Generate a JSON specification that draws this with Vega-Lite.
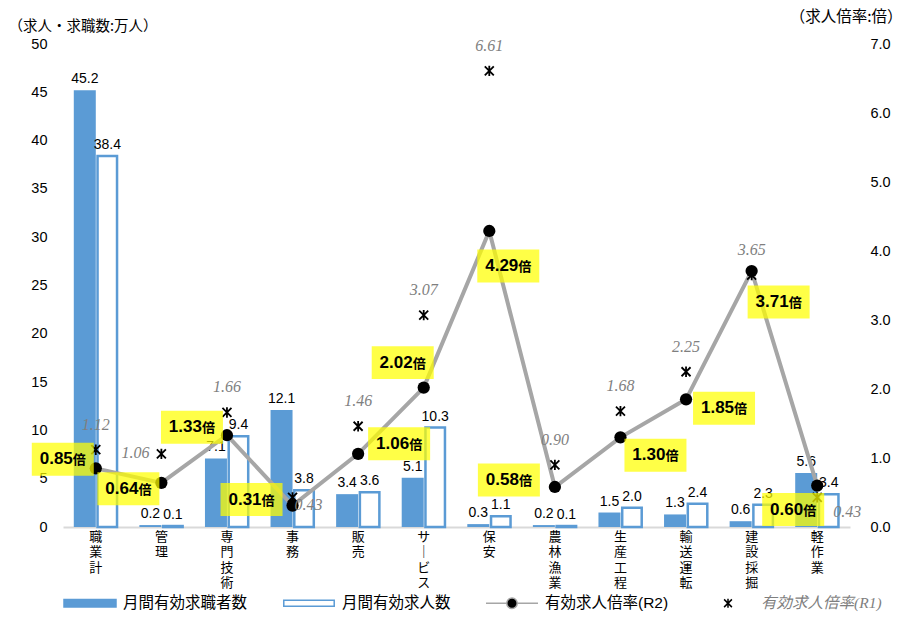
{
  "$schema": "https://vega.github.io/schema/vega-lite/v6.json",
  "width": 787,
  "height": 483,
  "autosize": {"type": "none"},
  "padding": {"left": 63, "top": 44, "right": 57, "bottom": 96},
  "background": "#ffffff",
  "config": {
    "font": "Liberation Sans, Noto Sans CJK JP",
    "view": {"stroke": null},
    "axis": {"labelColor": "#000000", "titleColor": "#000000", "grid": false}
  },
  "data": {
    "values": [
      {"cat": "職業計", "seeker": 45.2, "opening": 38.4, "r2": 0.85, "r1": 1.12},
      {"cat": "管理", "seeker": 0.2, "opening": 0.1, "r2": 0.64, "r1": 1.06},
      {"cat": "専門技術", "seeker": 7.1, "opening": 9.4, "r2": 1.33, "r1": 1.66},
      {"cat": "事務", "seeker": 12.1, "opening": 3.8, "r2": 0.31, "r1": 0.43},
      {"cat": "販売", "seeker": 3.4, "opening": 3.6, "r2": 1.06, "r1": 1.46},
      {"cat": "サービス", "seeker": 5.1, "opening": 10.3, "r2": 2.02, "r1": 3.07},
      {"cat": "保安", "seeker": 0.3, "opening": 1.1, "r2": 4.29, "r1": 6.61},
      {"cat": "農林漁業", "seeker": 0.2, "opening": 0.1, "r2": 0.58, "r1": 0.90},
      {"cat": "生産工程", "seeker": 1.5, "opening": 2.0, "r2": 1.30, "r1": 1.68},
      {"cat": "輸送運転", "seeker": 1.3, "opening": 2.4, "r2": 1.85, "r1": 2.25},
      {"cat": "建設採掘", "seeker": 0.6, "opening": 2.3, "r2": 3.71, "r1": 3.65},
      {"cat": "軽作業", "seeker": 5.6, "opening": 3.4, "r2": 0.60, "r1": 0.43}
    ]
  },
  "encoding": {
    "x": {
      "field": "cat", "type": "nominal", "sort": null,
      "scale": {"paddingInner": 0, "paddingOuter": 0},
      "axis": {
        "title": null, "labelAngle": 0, "ticks": false,
        "domainColor": "#D9D9D9", "domainWidth": 2,
        "labelFont": "Noto Sans CJK JP", "labelFontSize": 13, "labelLineHeight": 15.5,
        "labelBaseline": "top", "labelPadding": 3,
        "labelExpr": "split(replace(datum.label, 'ー', '｜'), '')"
      }
    }
  },
  "layer": [
    {
      "mark": {"type": "bar", "color": "#5B9BD5", "width": 22, "xOffset": -11},
      "encoding": {
        "y": {
          "field": "seeker", "type": "quantitative", "scale": {"domain": [0, 50]},
          "axis": {
            "values": [0, 5, 10, 15, 20, 25, 30, 35, 40, 45, 50],
            "domain": false, "ticks": false, "labelFontSize": 14.5, "labelPadding": 16,
            "title": "（求人・求職数:万人）", "titleAngle": 0, "titleAlign": "left", "titleBaseline": "middle",
            "titleX": -55, "titleY": -18, "titleFontSize": 14.5, "titleFontWeight": "normal",
            "titleFont": "Noto Sans CJK JP"
          }
        }
      }
    },
    {
      "mark": {"type": "bar", "fill": "#ffffff", "stroke": "#5B9BD5", "strokeWidth": 2.5, "width": 19.5, "xOffset": 11.5},
      "encoding": {"y": {"field": "opening", "type": "quantitative", "scale": {"domain": [0, 50]}, "axis": null}}
    },
    {
      "mark": {"type": "text", "baseline": "bottom", "xOffset": -11, "yOffset": -4, "fontSize": 14, "color": "#000000"},
      "encoding": {
        "y": {"field": "seeker", "type": "quantitative", "scale": {"domain": [0, 50]}, "axis": null},
        "text": {"field": "seeker", "format": ".1f"}
      }
    },
    {
      "mark": {"type": "text", "baseline": "bottom", "xOffset": 11.5, "yOffset": -4, "fontSize": 14, "color": "#000000"},
      "encoding": {
        "y": {"field": "opening", "type": "quantitative", "scale": {"domain": [0, 50]}, "axis": null},
        "text": {"field": "opening", "format": ".1f"}
      }
    },
    {
      "mark": {"type": "line", "color": "#A6A6A6", "strokeWidth": 4},
      "encoding": {
        "y": {
          "field": "r2", "type": "quantitative", "scale": {"domain": [0, 7]},
          "axis": {
            "orient": "right", "values": [0, 1, 2, 3, 4, 5, 6, 7], "format": ".1f",
            "domain": false, "ticks": false, "labelFontSize": 14.5, "labelPadding": 20,
            "title": "（求人倍率:倍）", "titleAngle": 0, "titleAlign": "right", "titleBaseline": "middle",
            "titleX": 52, "titleY": -28, "titleFontSize": 15.5, "titleFontWeight": "normal",
            "titleFont": "Noto Sans CJK JP"
          }
        }
      }
    },
    {
      "mark": {"type": "point", "shape": "M-1,-1L1,1M-1,1L1,-1M0,-1.15L0,1.15", "size": 81, "filled": false, "stroke": "#000000", "strokeWidth": 1.8, "opacity": 1},
      "encoding": {"y": {"field": "r1", "type": "quantitative", "scale": {"domain": [0, 7]}, "axis": null}}
    },
    {
      "mark": {"type": "point", "shape": "circle", "filled": true, "color": "#000000", "size": 150, "opacity": 1},
      "encoding": {"y": {"field": "r2", "type": "quantitative", "scale": {"domain": [0, 7]}, "axis": null}}
    },
    {
      "transform": [{"filter": "datum.cat !== '管理' && datum.cat !== '事務' && datum.cat !== '軽作業'"}],
      "mark": {"type": "text", "font": "Liberation Serif", "fontStyle": "italic", "fontSize": 16, "color": "#7F7F7F", "baseline": "middle", "yOffset": -25},
      "encoding": {
        "y": {"field": "r1", "type": "quantitative", "scale": {"domain": [0, 7]}, "axis": null},
        "text": {"field": "r1", "format": ".2f"}
      }
    },
    {
      "transform": [{"filter": "datum.cat === '管理'"}],
      "mark": {"type": "text", "font": "Liberation Serif", "fontStyle": "italic", "fontSize": 16, "color": "#7F7F7F", "baseline": "middle", "xOffset": -26, "yOffset": -1},
      "encoding": {
        "y": {"field": "r1", "type": "quantitative", "scale": {"domain": [0, 7]}, "axis": null},
        "text": {"field": "r1", "format": ".2f"}
      }
    },
    {
      "transform": [{"filter": "datum.cat === '事務'"}],
      "mark": {"type": "text", "font": "Liberation Serif", "fontStyle": "italic", "fontSize": 16, "color": "#7F7F7F", "baseline": "middle", "xOffset": 16, "yOffset": 8},
      "encoding": {
        "y": {"field": "r1", "type": "quantitative", "scale": {"domain": [0, 7]}, "axis": null},
        "text": {"field": "r1", "format": ".2f"}
      }
    },
    {
      "transform": [{"filter": "datum.cat === '軽作業'"}],
      "mark": {"type": "text", "font": "Liberation Serif", "fontStyle": "italic", "fontSize": 16, "color": "#7F7F7F", "baseline": "middle", "xOffset": 30, "yOffset": 15},
      "encoding": {
        "y": {"field": "r1", "type": "quantitative", "scale": {"domain": [0, 7]}, "axis": null},
        "text": {"field": "r1", "format": ".2f"}
      }
    },
    {
      "transform": [{"filter": "datum.cat === '職業計'"}],
      "encoding": {"y": {"field": "r2", "type": "quantitative", "scale": {"domain": [0, 7]}, "axis": null}},
      "layer": [
        {"mark": {"type": "point", "shape": "M-1,-0.532L1,-0.532L1,0.532L-1,0.532Z", "size": 3844, "filled": true, "color": "#FFFF00", "opacity": 0.72, "strokeWidth": 0, "xOffset": -33, "yOffset": -9}, "encoding": {}},
        {"mark": {"type": "text", "align": "right", "baseline": "middle", "fontSize": 17, "fontWeight": "bold", "color": "#000000", "xOffset": -23, "yOffset": -9}, "encoding": {"text": {"field": "r2", "format": ".2f"}}},
        {"mark": {"type": "text", "align": "left", "baseline": "middle", "fontSize": 13, "fontWeight": "bold", "color": "#000000", "text": "倍", "xOffset": -23, "yOffset": -8}, "encoding": {}}
      ]
    },
    {
      "transform": [{"filter": "datum.cat === '管理'"}],
      "encoding": {"y": {"field": "r2", "type": "quantitative", "scale": {"domain": [0, 7]}, "axis": null}},
      "layer": [
        {"mark": {"type": "point", "shape": "M-1,-0.532L1,-0.532L1,0.532L-1,0.532Z", "size": 3844, "filled": true, "color": "#FFFF00", "opacity": 0.72, "strokeWidth": 0, "xOffset": -33, "yOffset": 6}, "encoding": {}},
        {"mark": {"type": "text", "align": "right", "baseline": "middle", "fontSize": 17, "fontWeight": "bold", "color": "#000000", "xOffset": -23, "yOffset": 6}, "encoding": {"text": {"field": "r2", "format": ".2f"}}},
        {"mark": {"type": "text", "align": "left", "baseline": "middle", "fontSize": 13, "fontWeight": "bold", "color": "#000000", "text": "倍", "xOffset": -23, "yOffset": 7}, "encoding": {}}
      ]
    },
    {
      "transform": [{"filter": "datum.cat === '専門技術'"}],
      "encoding": {"y": {"field": "r2", "type": "quantitative", "scale": {"domain": [0, 7]}, "axis": null}},
      "layer": [
        {"mark": {"type": "point", "shape": "M-1,-0.532L1,-0.532L1,0.532L-1,0.532Z", "size": 3844, "filled": true, "color": "#FFFF00", "opacity": 0.72, "strokeWidth": 0, "xOffset": -35, "yOffset": -8}, "encoding": {}},
        {"mark": {"type": "text", "align": "right", "baseline": "middle", "fontSize": 17, "fontWeight": "bold", "color": "#000000", "xOffset": -25, "yOffset": -8}, "encoding": {"text": {"field": "r2", "format": ".2f"}}},
        {"mark": {"type": "text", "align": "left", "baseline": "middle", "fontSize": 13, "fontWeight": "bold", "color": "#000000", "text": "倍", "xOffset": -25, "yOffset": -7}, "encoding": {}}
      ]
    },
    {
      "transform": [{"filter": "datum.cat === '事務'"}],
      "encoding": {"y": {"field": "r2", "type": "quantitative", "scale": {"domain": [0, 7]}, "axis": null}},
      "layer": [
        {"mark": {"type": "point", "shape": "M-1,-0.532L1,-0.532L1,0.532L-1,0.532Z", "size": 3844, "filled": true, "color": "#FFFF00", "opacity": 0.72, "strokeWidth": 0, "xOffset": -41, "yOffset": -6}, "encoding": {}},
        {"mark": {"type": "text", "align": "right", "baseline": "middle", "fontSize": 17, "fontWeight": "bold", "color": "#000000", "xOffset": -31, "yOffset": -6}, "encoding": {"text": {"field": "r2", "format": ".2f"}}},
        {"mark": {"type": "text", "align": "left", "baseline": "middle", "fontSize": 13, "fontWeight": "bold", "color": "#000000", "text": "倍", "xOffset": -31, "yOffset": -5}, "encoding": {}}
      ]
    },
    {
      "transform": [{"filter": "datum.cat === '販売'"}],
      "encoding": {"y": {"field": "r2", "type": "quantitative", "scale": {"domain": [0, 7]}, "axis": null}},
      "layer": [
        {"mark": {"type": "point", "shape": "M-1,-0.532L1,-0.532L1,0.532L-1,0.532Z", "size": 3844, "filled": true, "color": "#FFFF00", "opacity": 0.72, "strokeWidth": 0, "xOffset": 41, "yOffset": -10}, "encoding": {}},
        {"mark": {"type": "text", "align": "right", "baseline": "middle", "fontSize": 17, "fontWeight": "bold", "color": "#000000", "xOffset": 51, "yOffset": -10}, "encoding": {"text": {"field": "r2", "format": ".2f"}}},
        {"mark": {"type": "text", "align": "left", "baseline": "middle", "fontSize": 13, "fontWeight": "bold", "color": "#000000", "text": "倍", "xOffset": 51, "yOffset": -9}, "encoding": {}}
      ]
    },
    {
      "transform": [{"filter": "datum.cat === 'サービス'"}],
      "encoding": {"y": {"field": "r2", "type": "quantitative", "scale": {"domain": [0, 7]}, "axis": null}},
      "layer": [
        {"mark": {"type": "point", "shape": "M-1,-0.532L1,-0.532L1,0.532L-1,0.532Z", "size": 3844, "filled": true, "color": "#FFFF00", "opacity": 0.72, "strokeWidth": 0, "xOffset": -21, "yOffset": -25}, "encoding": {}},
        {"mark": {"type": "text", "align": "right", "baseline": "middle", "fontSize": 17, "fontWeight": "bold", "color": "#000000", "xOffset": -11, "yOffset": -25}, "encoding": {"text": {"field": "r2", "format": ".2f"}}},
        {"mark": {"type": "text", "align": "left", "baseline": "middle", "fontSize": 13, "fontWeight": "bold", "color": "#000000", "text": "倍", "xOffset": -11, "yOffset": -24}, "encoding": {}}
      ]
    },
    {
      "transform": [{"filter": "datum.cat === '保安'"}],
      "encoding": {"y": {"field": "r2", "type": "quantitative", "scale": {"domain": [0, 7]}, "axis": null}},
      "layer": [
        {"mark": {"type": "point", "shape": "M-1,-0.532L1,-0.532L1,0.532L-1,0.532Z", "size": 3844, "filled": true, "color": "#FFFF00", "opacity": 0.72, "strokeWidth": 0, "xOffset": 19, "yOffset": 35}, "encoding": {}},
        {"mark": {"type": "text", "align": "right", "baseline": "middle", "fontSize": 17, "fontWeight": "bold", "color": "#000000", "xOffset": 29, "yOffset": 35}, "encoding": {"text": {"field": "r2", "format": ".2f"}}},
        {"mark": {"type": "text", "align": "left", "baseline": "middle", "fontSize": 13, "fontWeight": "bold", "color": "#000000", "text": "倍", "xOffset": 29, "yOffset": 36}, "encoding": {}}
      ]
    },
    {
      "transform": [{"filter": "datum.cat === '農林漁業'"}],
      "encoding": {"y": {"field": "r2", "type": "quantitative", "scale": {"domain": [0, 7]}, "axis": null}},
      "layer": [
        {"mark": {"type": "point", "shape": "M-1,-0.532L1,-0.532L1,0.532L-1,0.532Z", "size": 3844, "filled": true, "color": "#FFFF00", "opacity": 0.72, "strokeWidth": 0, "xOffset": -46, "yOffset": -7}, "encoding": {}},
        {"mark": {"type": "text", "align": "right", "baseline": "middle", "fontSize": 17, "fontWeight": "bold", "color": "#000000", "xOffset": -36, "yOffset": -7}, "encoding": {"text": {"field": "r2", "format": ".2f"}}},
        {"mark": {"type": "text", "align": "left", "baseline": "middle", "fontSize": 13, "fontWeight": "bold", "color": "#000000", "text": "倍", "xOffset": -36, "yOffset": -6}, "encoding": {}}
      ]
    },
    {
      "transform": [{"filter": "datum.cat === '生産工程'"}],
      "encoding": {"y": {"field": "r2", "type": "quantitative", "scale": {"domain": [0, 7]}, "axis": null}},
      "layer": [
        {"mark": {"type": "point", "shape": "M-1,-0.532L1,-0.532L1,0.532L-1,0.532Z", "size": 3844, "filled": true, "color": "#FFFF00", "opacity": 0.72, "strokeWidth": 0, "xOffset": 35, "yOffset": 18}, "encoding": {}},
        {"mark": {"type": "text", "align": "right", "baseline": "middle", "fontSize": 17, "fontWeight": "bold", "color": "#000000", "xOffset": 45, "yOffset": 18}, "encoding": {"text": {"field": "r2", "format": ".2f"}}},
        {"mark": {"type": "text", "align": "left", "baseline": "middle", "fontSize": 13, "fontWeight": "bold", "color": "#000000", "text": "倍", "xOffset": 45, "yOffset": 19}, "encoding": {}}
      ]
    },
    {
      "transform": [{"filter": "datum.cat === '輸送運転'"}],
      "encoding": {"y": {"field": "r2", "type": "quantitative", "scale": {"domain": [0, 7]}, "axis": null}},
      "layer": [
        {"mark": {"type": "point", "shape": "M-1,-0.532L1,-0.532L1,0.532L-1,0.532Z", "size": 3844, "filled": true, "color": "#FFFF00", "opacity": 0.72, "strokeWidth": 0, "xOffset": 38, "yOffset": 9}, "encoding": {}},
        {"mark": {"type": "text", "align": "right", "baseline": "middle", "fontSize": 17, "fontWeight": "bold", "color": "#000000", "xOffset": 48, "yOffset": 9}, "encoding": {"text": {"field": "r2", "format": ".2f"}}},
        {"mark": {"type": "text", "align": "left", "baseline": "middle", "fontSize": 13, "fontWeight": "bold", "color": "#000000", "text": "倍", "xOffset": 48, "yOffset": 10}, "encoding": {}}
      ]
    },
    {
      "transform": [{"filter": "datum.cat === '建設採掘'"}],
      "encoding": {"y": {"field": "r2", "type": "quantitative", "scale": {"domain": [0, 7]}, "axis": null}},
      "layer": [
        {"mark": {"type": "point", "shape": "M-1,-0.532L1,-0.532L1,0.532L-1,0.532Z", "size": 3844, "filled": true, "color": "#FFFF00", "opacity": 0.72, "strokeWidth": 0, "xOffset": 27, "yOffset": 31}, "encoding": {}},
        {"mark": {"type": "text", "align": "right", "baseline": "middle", "fontSize": 17, "fontWeight": "bold", "color": "#000000", "xOffset": 37, "yOffset": 31}, "encoding": {"text": {"field": "r2", "format": ".2f"}}},
        {"mark": {"type": "text", "align": "left", "baseline": "middle", "fontSize": 13, "fontWeight": "bold", "color": "#000000", "text": "倍", "xOffset": 37, "yOffset": 32}, "encoding": {}}
      ]
    },
    {
      "transform": [{"filter": "datum.cat === '軽作業'"}],
      "encoding": {"y": {"field": "r2", "type": "quantitative", "scale": {"domain": [0, 7]}, "axis": null}},
      "layer": [
        {"mark": {"type": "point", "shape": "M-1,-0.532L1,-0.532L1,0.532L-1,0.532Z", "size": 3844, "filled": true, "color": "#FFFF00", "opacity": 0.72, "strokeWidth": 0, "xOffset": -24, "yOffset": 24}, "encoding": {}},
        {"mark": {"type": "text", "align": "right", "baseline": "middle", "fontSize": 17, "fontWeight": "bold", "color": "#000000", "xOffset": -14, "yOffset": 24}, "encoding": {"text": {"field": "r2", "format": ".2f"}}},
        {"mark": {"type": "text", "align": "left", "baseline": "middle", "fontSize": 13, "fontWeight": "bold", "color": "#000000", "text": "倍", "xOffset": -14, "yOffset": 25}, "encoding": {}}
      ]
    },
    {
      "data": {"values": [{"series": "月間有効求職者数"}, {"series": "月間有効求人数"}, {"series": "有効求人倍率(R2)"}, {"series": "有効求人倍率(R1)"}]},
      "transform": [{"filter": "false"}],
      "mark": {
        "type": "point", "opacity": 1,
        "fill": {"expr": "datum.label === '月間有効求職者数' ? '#5B9BD5' : datum.label === '月間有効求人数' ? '#FFFFFF' : datum.label === '有効求人倍率(R2)' ? '#000000' : 'transparent'"},
        "stroke": {"expr": "datum.label === '有効求人倍率(R2)' ? '#A6A6A6' : datum.label === '有効求人倍率(R1)' ? '#000000' : '#5B9BD5'"},
        "strokeWidth": {"expr": "datum.label === '有効求人倍率(R2)' ? 3.5 : datum.label === '有効求人倍率(R1)' ? 1.8 : datum.label === '月間有効求人数' ? 2.5 : 0.5"}
      },
      "encoding": {
        "shape": {
          "field": "series", "type": "nominal",
          "scale": {
            "domain": ["月間有効求職者数", "月間有効求人数", "有効求人倍率(R2)", "有効求人倍率(R1)"],
            "range": [
              "M-1,-0.14L1,-0.14L1,0.14L-1,0.14Z",
              "M-0.97,-0.12L0.97,-0.12L0.97,0.12L-0.97,0.12Z",
              "M-1,0L-0.2,0M0.2,0L1,0M0.2,0A0.2,0.2,0,1,1,-0.2,0A0.2,0.2,0,1,1,0.2,0Z",
              "M-0.15,-0.15L0.15,0.15M-0.15,0.15L0.15,-0.15M0,-0.17L0,0.17"
            ]
          },
          "legend": {
            "title": null, "orient": "none", "legendX": 0, "legendY": 532,
            "direction": "horizontal", "columns": 4, "columnPadding": 32,
            "symbolSize": 2704, "labelFontSize": 15.5, "labelOffset": 6,
            "labelFont": {"expr": "datum.label === '有効求人倍率(R1)' ? 'Liberation Serif, Noto Sans CJK JP' : 'Liberation Sans, Noto Sans CJK JP'"},
            "labelColor": {"expr": "datum.label === '有効求人倍率(R1)' ? '#7F7F7F' : '#000000'"},
            "labelFontStyle": {"expr": "datum.label === '有効求人倍率(R1)' ? 'italic' : 'normal'"}
          }
        }
      }
    }
  ],
  "resolve": {"scale": {"y": "independent"}, "axis": {"y": "independent"}}
}
